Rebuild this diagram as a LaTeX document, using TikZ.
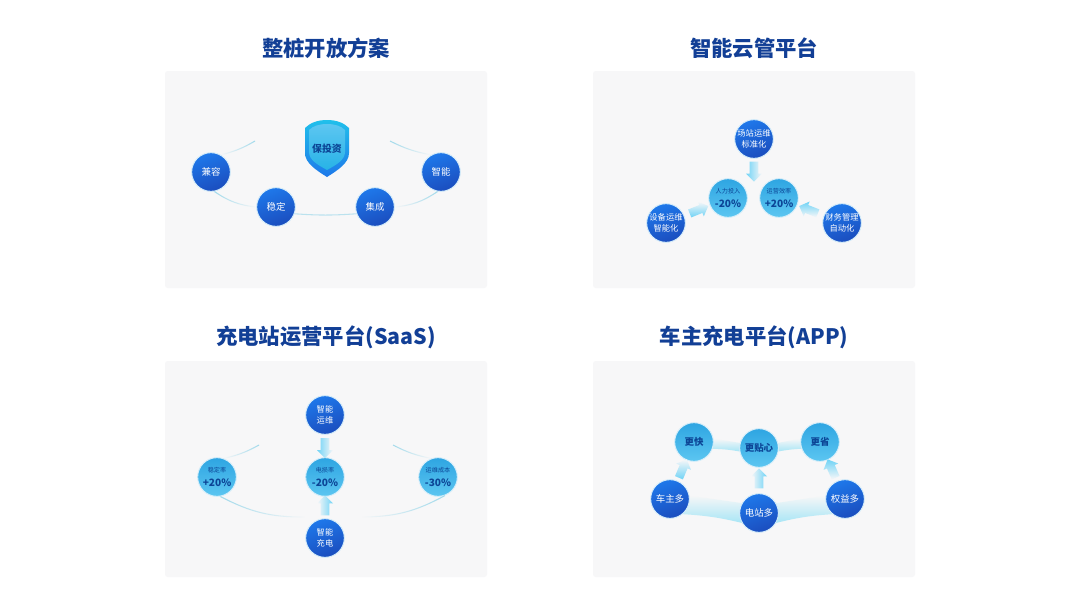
\documentclass[tikz,border=0pt]{standalone}
\usepackage{fontspec}
\usepackage{xcolor}
\setmainfont{Noto Sans CJK SC}
\usetikzlibrary{shapes.arrows,fadings}

\definecolor{paneltint}{HTML}{F7F7F8}
\definecolor{titleblue}{HTML}{123F96}
\definecolor{navytext}{HTML}{0C4596}
\definecolor{halo}{HTML}{D6EEFA}
\definecolor{orbit}{HTML}{A2DAEB}
\definecolor{flowhead}{HTML}{6FD3F6}
\definecolor{bandcyan}{HTML}{A8E6F6}
\definecolor{discleft}{HTML}{1E78EA}
\definecolor{discright}{HTML}{1B4DBE}
\definecolor{skytop}{HTML}{2EA5E2}
\definecolor{skybottom}{HTML}{5CC6F1}

\pgfdeclarelayer{panels}
\pgfdeclarelayer{links}
\pgfsetlayers{panels,links,main}

\tikzset{
    paneltile/.style={fill=paneltint, rounded corners=2pt},
    titletext/.style={text=titleblue, font=\bfseries\fontsize{16}{18}\selectfont},
    bluedisc/.style={circle, minimum size=29pt, inner sep=0pt, draw=halo, line width=0.7pt,
        left color=discleft, right color=discright, shading angle=20,
        text=white, align=center, font=\fontsize{7.1}{8.2}\selectfont},
    skydisc/.style={circle, minimum size=29pt, inner sep=0pt, draw=halo, line width=0.7pt,
        top color=skytop, bottom color=skybottom,
        text=navytext, align=center, font=\fontsize{7.1}{8.2}\selectfont},
    flowarrow/.style={single arrow, single arrow head extend=2.8pt, single arrow tip angle=90,
        minimum height=15pt, inner sep=0pt, inner ysep=3pt, sloped, allow upside down,
        left color=paneltint, right color=flowhead, shading angle=#1},
    orbitline/.style={draw=orbit, line width=0.8pt},
    bandfill/.style={fill=bandcyan, path fading=north},
    smalltext/.style={font=\fontsize{6.2}{8}\selectfont}
}
\newcommand{\rate}[2]{{\fontsize{4.6}{6}\selectfont #1}\\[2pt]{\bfseries\fontsize{7.6}{9}\selectfont #2}}

\begin{document}
\begin{tikzpicture}[x=0.75pt,y=-0.75pt]
    \useasboundingbox (0,0) rectangle (1080,604);

    % Panels
    \begin{pgfonlayer}{panels}
        \fill[white] (0,0) rectangle (1080,604);
        \fill[paneltile] (165,71) rectangle (487,288);
        \fill[paneltile] (593,71) rectangle (915,288);
        \fill[paneltile] (165,361) rectangle (487,577);
        \fill[paneltile] (593,361) rectangle (915,577);
    \end{pgfonlayer}

    % Titles
    \node[titletext] (titleopen) at (326,48) {整桩开放方案};
    \node[titletext] (titlecloud) at (754,48) {智能云管平台};
    \node[titletext] (titlesaas) at (326,337) {充电站运营平台(SaaS)};
    \node[titletext] (titleapp) at (754,337) {车主充电平台(APP)};

    % Open charger
    \shade[top color=skytop!70!cyan, bottom color=discleft]
        (327,120) .. controls (337,120) and (344,123) .. (349,128) -- (349,153)
        .. controls (349,163) and (338,170) .. (327,177)
        .. controls (316,170) and (305,163) .. (305,153) -- (305,128)
        .. controls (310,123) and (317,120) .. cycle;
    \shade[top color=skybottom, bottom color=skytop!85!cyan]
        (327,124) .. controls (335,124) and (341,126) .. (345,130) -- (345,152)
        .. controls (345,160) and (336,165) .. (327,170)
        .. controls (318,165) and (309,160) .. (309,152) -- (309,130)
        .. controls (313,126) and (319,124) .. cycle;
    \node[text=navytext, font=\bfseries\fontsize{7.4}{9}\selectfont] (shield) at (327,149) {保投资};
    \node[bluedisc] (compat) at (211,172) {兼容};
    \node[bluedisc] (stable) at (276,207) {稳定};
    \node[bluedisc] (integrate) at (375,207) {集成};
    \node[bluedisc] (smart) at (441,172) {智能};
    \coordinate (gapleft) at (255,141);
    \coordinate (gapright) at (390,141);
    \draw[orbitline, path fading=west] (compat.60) to[bend right=8] (gapleft);
    \draw[orbitline, path fading=east] (smart.120) to[bend left=8] (gapright);
    \draw[orbitline, path fading=east] (compat.-80) to[bend right=14] (stable.west);
    \draw[orbitline, path fading=west] (smart.-100) to[bend left=14] (integrate.east);
    \draw[orbitline, opacity=0.7] (stable.-20) to[bend right=4] (integrate.200);

    % Cloud platform
    \node[bluedisc, smalltext] (siteops) at (754,139) {场站运维\\标准化};
    \node[skydisc] (labor) at (728,198) {\rate{人力投入}{-20\%}};
    \node[skydisc] (efficiency) at (779,198) {\rate{运营效率}{+20\%}};
    \node[bluedisc, smalltext] (deviceops) at (666,223) {设备运维\\智能化};
    \node[bluedisc, smalltext] (finance) at (842,223) {财务管理\\自动化};
    \coordinate (coregap) at (754,198);
    \path (siteops) -- node[flowarrow=-90, pos=0.27] (siteflow) {} (coregap);
    \path (deviceops) -- node[flowarrow=0, pos=0.5] (deviceflow) {} (labor);
    \path (finance) -- node[flowarrow=180, pos=0.5] (financeflow) {} (efficiency);

    % SaaS platform
    \node[bluedisc, smalltext] (smartops) at (325,415) {智能\\运维};
    \node[skydisc] (loss) at (325,477) {\rate{电损率}{-20\%}};
    \node[skydisc] (uptime) at (217,477) {\rate{稳定率}{+20\%}};
    \node[skydisc] (opscost) at (438,477) {\rate{运维成本}{-30\%}};
    \node[bluedisc, smalltext] (smartcharge) at (325,538) {智能\\充电};
    \path (smartops) -- node[flowarrow=-90, pos=0.5] (opsflow) {} (loss);
    \path (smartcharge) -- node[flowarrow=90, pos=0.5] (chargeflow) {} (loss);
    \coordinate (arcleft) at (259,445);
    \coordinate (arcright) at (393,445);
    \coordinate (sagleft) at (305,517);
    \coordinate (sagright) at (362,517);
    \draw[orbitline, path fading=west] (uptime.70) to[bend right=8] (arcleft);
    \draw[orbitline, path fading=east] (opscost.110) to[bend left=8] (arcright);
    \draw[orbitline, path fading=east] (uptime.-80) to[bend right=14] (sagleft);
    \draw[orbitline, path fading=west] (opscost.-70) to[bend left=14] (sagright);

    % Driver app
    \node[skydisc] (faster) at (694,442) {\bfseries 更快};
    \node[skydisc] (caring) at (759,448) {\bfseries 更贴心};
    \node[skydisc] (cheaper) at (820,442) {\bfseries 更省};
    \node[bluedisc] (owners) at (670,499) {车主多};
    \node[bluedisc] (stations) at (759,513) {电站多};
    \node[bluedisc] (benefits) at (845,499) {权益多};
    \begin{pgfonlayer}{links}
        \fill[bandfill] (faster.10) -- (caring.165) -- (caring.190) to[bend right=4] (faster.-20) -- cycle;
        \fill[bandfill] (cheaper.170) -- (caring.15) -- (caring.-10) to[bend left=4] (cheaper.-160) -- cycle;
        \fill[bandfill] (owners.10) -- (stations.150) -- (stations.-150) to[bend right=5] (owners.-50) -- cycle;
        \fill[bandfill] (benefits.170) -- (stations.30) -- (stations.-30) to[bend left=5] (benefits.-130) -- cycle;
    \end{pgfonlayer}
    \path (owners) -- node[flowarrow=0, pos=0.5] (ownersflow) {} (faster);
    \path (stations) -- node[flowarrow=90, pos=0.5] (stationsflow) {} (caring);
    \path (benefits) -- node[flowarrow=180, pos=0.5] (benefitsflow) {} (cheaper);
\end{tikzpicture}
\end{document}
